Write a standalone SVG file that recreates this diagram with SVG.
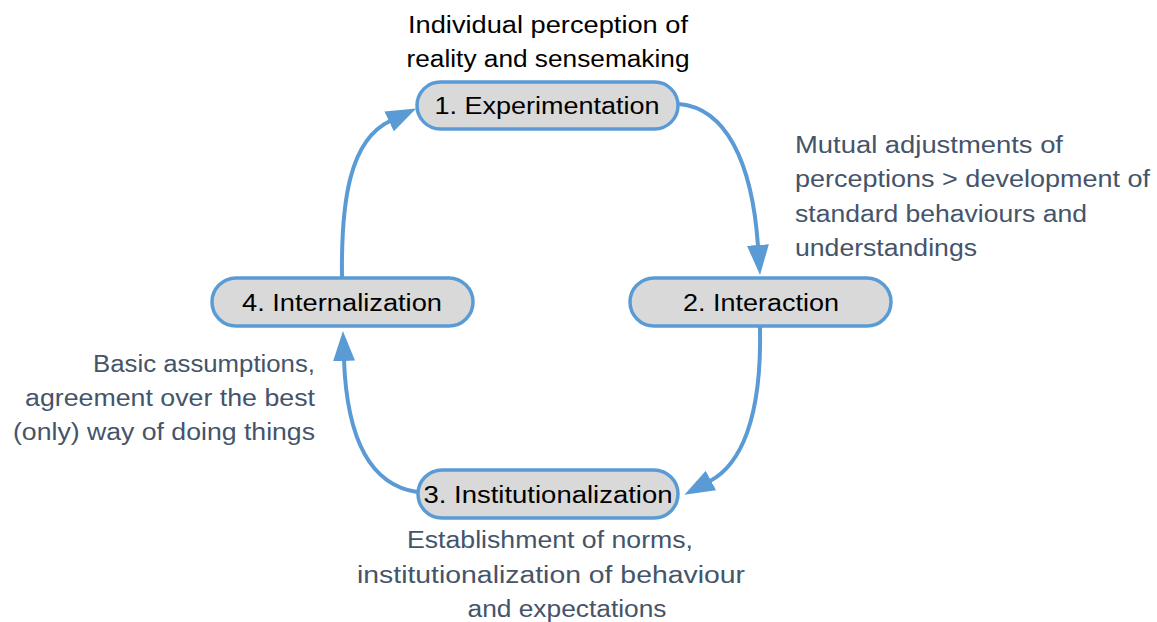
<svg xmlns="http://www.w3.org/2000/svg" width="1157" height="622" viewBox="0 0 1157 622">
<style>
.node{fill:#d9d9d9;stroke:#5b9bd5;stroke-width:3.5}
.lbl{font-family:"Liberation Sans",Arial,sans-serif;font-size:23px;fill:#000}
.note{font-family:"Liberation Sans",Arial,sans-serif;font-size:23px;fill:#44546a}
.conn{fill:none;stroke:#5b9bd5;stroke-width:4}
</style>
<defs>
<marker id="arr" viewBox="0 0 30 22" refX="1" refY="11" markerWidth="30" markerHeight="22" markerUnits="userSpaceOnUse" orient="auto">
<path d="M0,0 L30,11 L0,22 z" fill="#5b9bd5"/>
</marker>
</defs>
<rect width="1157" height="622" fill="#fff"/>
<g id="connectors">
<path class="conn" d="M679,104 C725,108 752,160 758,246" marker-end="url(#arr)"/>
<path class="conn" d="M760,327 C762,420 740,465 710,481" marker-end="url(#arr)"/>
<path class="conn" d="M417,492 C370,485 347,440 344,360" marker-end="url(#arr)"/>
<path class="conn" d="M342,277 C341,200 350,140 390,121" marker-end="url(#arr)"/>
</g>
<g id="node1">
<rect class="node" x="417" y="82" width="261" height="47" rx="23.5"/>
<text class="lbl" x="547" y="114" text-anchor="middle" textLength="225" lengthAdjust="spacingAndGlyphs">1. Experimentation</text>
</g>
<g id="node2">
<rect class="node" x="630" y="278" width="261" height="48" rx="24"/>
<text class="lbl" x="761" y="311" text-anchor="middle" textLength="156" lengthAdjust="spacingAndGlyphs">2. Interaction</text>
</g>
<g id="node3">
<rect class="node" x="418" y="470" width="260" height="48" rx="24"/>
<text class="lbl" x="548" y="503" text-anchor="middle" textLength="249" lengthAdjust="spacingAndGlyphs">3. Institutionalization</text>
</g>
<g id="node4">
<rect class="node" x="212" y="278" width="261" height="48" rx="24"/>
<text class="lbl" x="342" y="311" text-anchor="middle" textLength="200" lengthAdjust="spacingAndGlyphs">4. Internalization</text>
</g>
<g id="note-top">
<text class="lbl" x="548" y="33" text-anchor="middle" textLength="280" lengthAdjust="spacingAndGlyphs">Individual perception of</text>
<text class="lbl" x="548" y="67" text-anchor="middle" textLength="283" lengthAdjust="spacingAndGlyphs">reality and sensemaking</text>
</g>
<g id="note-right">
<text class="note" x="795" y="153" textLength="268" lengthAdjust="spacingAndGlyphs">Mutual adjustments of</text>
<text class="note" x="795" y="187" textLength="355" lengthAdjust="spacingAndGlyphs">perceptions &gt; development of</text>
<text class="note" x="795" y="222" textLength="292" lengthAdjust="spacingAndGlyphs">standard behaviours and</text>
<text class="note" x="795" y="256" textLength="182" lengthAdjust="spacingAndGlyphs">understandings</text>
</g>
<g id="note-left">
<text class="note" x="315" y="372" text-anchor="end" textLength="222" lengthAdjust="spacingAndGlyphs">Basic assumptions,</text>
<text class="note" x="315" y="406" text-anchor="end" textLength="290" lengthAdjust="spacingAndGlyphs">agreement over the best</text>
<text class="note" x="315" y="440" text-anchor="end" textLength="302" lengthAdjust="spacingAndGlyphs">(only) way of doing things</text>
</g>
<g id="note-bottom">
<text class="note" x="550" y="548" text-anchor="middle" textLength="286" lengthAdjust="spacingAndGlyphs">Establishment of norms,</text>
<text class="note" x="551" y="583" text-anchor="middle" textLength="388" lengthAdjust="spacingAndGlyphs">institutionalization of behaviour</text>
<text class="note" x="567" y="617" text-anchor="middle" textLength="199" lengthAdjust="spacingAndGlyphs">and expectations</text>
</g>
</svg>
